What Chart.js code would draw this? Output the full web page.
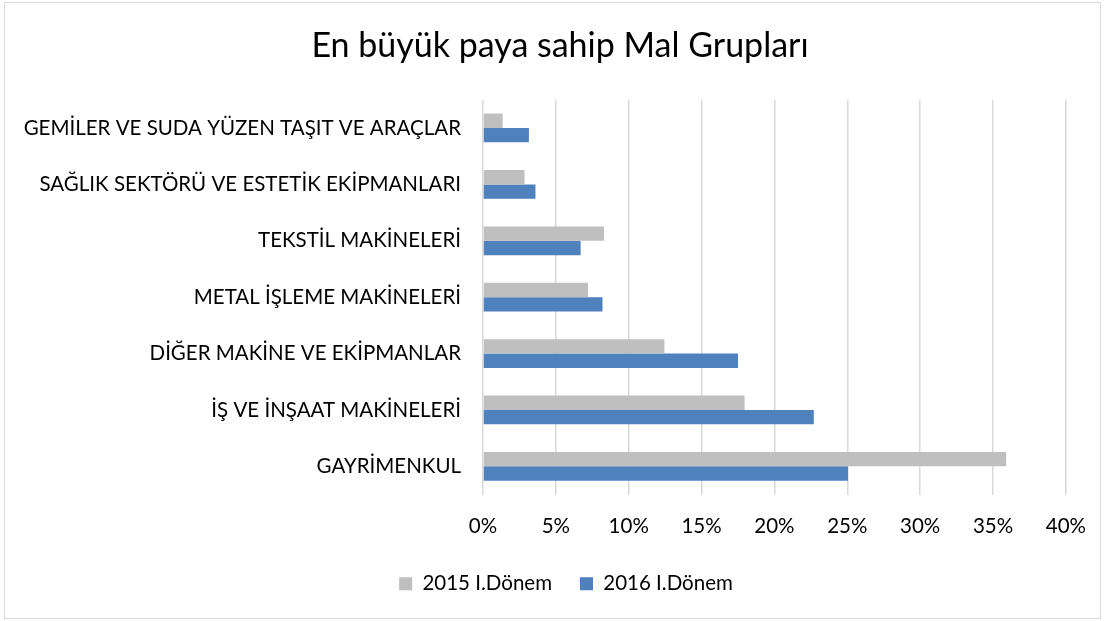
<!DOCTYPE html>
<html>
<head>
<meta charset="utf-8">
<script src="https://cdn.jsdelivr.net/npm/chart.js@4"></script>
<style>
html,body{margin:0;padding:0;background:#fff;}
#wrap{width:1106px;height:621px;position:relative;}
</style>
</head>
<body>
<div id="wrap"><canvas id="c" width="1106" height="621"></canvas></div>
<script>
const categories = [
  "GEMİLER VE SUDA YÜZEN TAŞIT VE ARAÇLAR",
  "SAĞLIK SEKTÖRÜ VE ESTETİK EKİPMANLARI",
  "TEKSTİL MAKİNELERİ",
  "METAL İŞLEME MAKİNELERİ",
  "DİĞER MAKİNE VE EKİPMANLAR",
  "İŞ VE İNŞAAT MAKİNELERİ",
  "GAYRİMENKUL"
];
const series2015 = [1.35, 2.85, 8.3, 7.2, 12.45, 17.95, 35.9];
const series2016 = [3.15, 3.6, 6.7, 8.2, 17.5, 22.7, 25.05];
const seriesNames = ["2015 I.Dönem", "2016 I.Dönem"];
const xTicks = [0, 5, 10, 15, 20, 25, 30, 35, 40];
const titleText = "En büyük paya sahip Mal Grupları";

const FONT = "Lato, 'Open Sans', sans-serif";

const borderPlugin = {
  id: 'outerBorder',
  beforeDraw(chart) {
    const ctx = chart.ctx;
    ctx.save();
    ctx.fillStyle = '#fff';
    ctx.fillRect(0, 0, chart.width, chart.height);
    ctx.strokeStyle = '#d9d9d9';
    ctx.lineWidth = 1;
    ctx.strokeRect(4.5, 2.5, 1096, 616);
    ctx.restore();
  },
  afterLayout(chart) {
    // centre title and legend like the reference (outer frame centre)
    if (chart.titleBlock) { chart.titleBlock.left = 14; chart.titleBlock.right = 1106; chart.titleBlock.width = 1092; }
    if (chart.legend) { chart.legend.left = 26; chart.legend.right = 1106; chart.legend.width = 1080; }
  }
};

new Chart(document.getElementById('c'), {
  type: 'bar',
  data: {
    labels: categories,
    datasets: [
      { label: seriesNames[0], data: series2015, backgroundColor: '#BFBFBF', categoryPercentage: 0.51, barPercentage: 1.0 },
      { label: seriesNames[1], data: series2016, backgroundColor: '#4F81BD', categoryPercentage: 0.51, barPercentage: 1.0 }
    ]
  },
  options: {
    indexAxis: 'y',
    responsive: false,
    animation: false,
    devicePixelRatio: 1,
    layout: { padding: { left: 0, right: 40, top: 0, bottom: 17 } },
    plugins: {
      title: {
        display: true,
        text: titleText,
        color: '#000',
        font: { family: FONT, size: 34, weight: 'normal' },
        padding: { top: 26, bottom: 33 }
      },
      legend: {
        display: true,
        position: 'bottom',
        labels: {
          color: '#000',
          font: { family: FONT, size: 20.5 },
          boxWidth: 13,
          boxHeight: 13,
          padding: 28
        }
      },
      tooltip: { enabled: false }
    },
    scales: {
      x: {
        min: 0,
        max: 40,
        afterBuildTicks(scale) { scale.ticks = xTicks.map(v => ({ value: v })); },
        afterFit(scale) { scale.height = 51; },
        ticks: {
          color: '#000',
          font: { family: FONT, size: 20.5 },
          padding: 20,
          callback: v => v + '%'
        },
        grid: { color: '#d9d9d9', lineWidth: 1.5, drawTicks: false },
        border: { display: false }
      },
      y: {
        afterFit(scale) { scale.width = 483; },
        ticks: {
          color: '#000',
          font: { family: FONT, size: 20.5 },
          padding: 22
        },
        grid: { display: false, drawTicks: false },
        border: { display: false }
      }
    }
  },
  plugins: [borderPlugin]
});
</script>
</body>
</html>
